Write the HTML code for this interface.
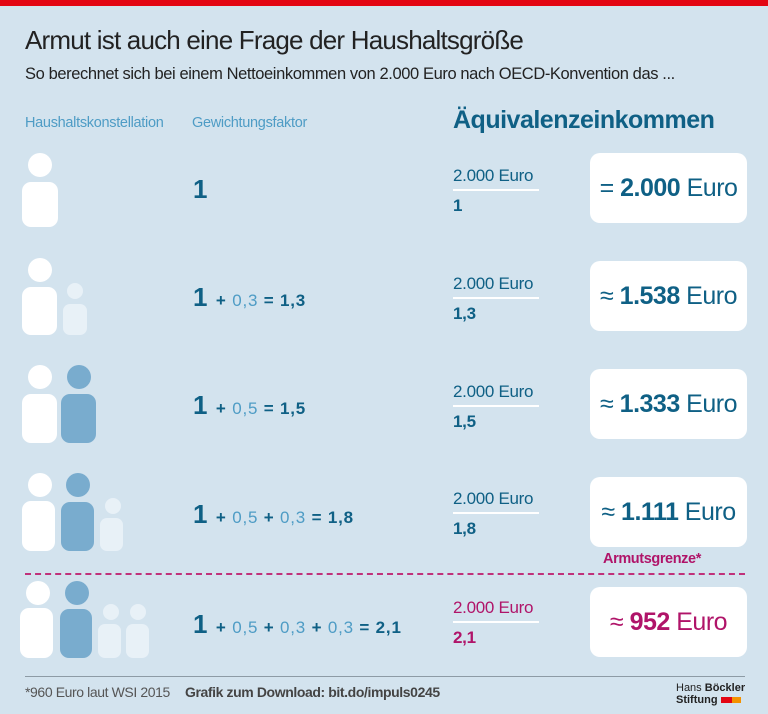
<!DOCTYPE html>
<html><head><meta charset="utf-8"><style>
body{margin:0;width:768px;height:714px;background:#d3e3ee;position:relative;overflow:hidden;font-family:"Liberation Sans",sans-serif}
.a{position:absolute;white-space:nowrap}
.dk{color:#0f6085}.md{color:#4e9cc5}.mg{color:#b01469}
.box{position:absolute;left:590px;width:157px;height:70px;background:#fff;border-radius:10px}
.val{position:absolute;left:0;width:100%;top:0;line-height:70px;text-align:center;font-size:25px;letter-spacing:-0.5px}
.fl{position:absolute;left:453px;width:86px;height:2px;background:#fff}
.num{font-size:17px;letter-spacing:-0.3px}
.f{font-size:17px;letter-spacing:0.8px}
.b{font-weight:bold}
.one{font-size:26px;font-weight:bold;margin-right:4px}
</style></head><body>
<div class="a" style="left:0;top:0;width:768px;height:6px;background:#e30613"></div>
<div class="a" style="left:25px;top:25px;font-size:26px;color:#222;letter-spacing:-0.8px">Armut ist auch eine Frage der Haushaltsgröße</div>
<div class="a" style="left:25px;top:65px;font-size:16.5px;color:#222;letter-spacing:-0.4px">So berechnet sich bei einem Nettoeinkommen von 2.000 Euro nach OECD-Konvention das ...</div>
<div class="a md" style="left:25px;top:115px;font-size:14.5px;letter-spacing:-0.3px">Haushaltskonstellation</div>
<div class="a md" style="left:192px;top:115px;font-size:14.5px;letter-spacing:-0.3px">Gewichtungsfaktor</div>
<div class="a dk" style="left:453px;top:106px;font-size:25px;font-weight:bold;letter-spacing:-0.5px">Äquivalenzeinkommen</div>

<svg class="a" style="left:0;top:0" width="170" height="714">
<g fill="#fff"><circle cx="40" cy="165" r="12"/><rect x="22" y="182" width="36" height="45" rx="9"/></g>
<g><circle cx="40" cy="270" r="12" fill="#fff"/><rect x="22" y="287" width="35" height="48" rx="9" fill="#fff"/>
<circle cx="75" cy="291" r="8" fill="#e8f1f7"/><rect x="63" y="304" width="24" height="31" rx="7" fill="#e8f1f7"/></g>
<g><circle cx="40" cy="377" r="12" fill="#fff"/><rect x="22" y="394" width="35" height="49" rx="9" fill="#fff"/>
<circle cx="79" cy="377" r="12" fill="#79acce"/><rect x="61" y="394" width="35" height="49" rx="9" fill="#79acce"/></g>
<g><circle cx="40" cy="485" r="12" fill="#fff"/><rect x="22" y="501" width="33" height="50" rx="9" fill="#fff"/>
<circle cx="78" cy="485" r="12" fill="#79acce"/><rect x="61" y="502" width="33" height="49" rx="9" fill="#79acce"/>
<circle cx="113" cy="506" r="8" fill="#e8f1f7"/><rect x="100" y="518" width="23" height="33" rx="7" fill="#e8f1f7"/></g>
<g><circle cx="38" cy="593" r="12" fill="#fff"/><rect x="20" y="608" width="33" height="50" rx="9" fill="#fff"/>
<circle cx="77" cy="593" r="12" fill="#79acce"/><rect x="60" y="609" width="32" height="49" rx="9" fill="#79acce"/>
<circle cx="111" cy="612" r="8" fill="#e8f1f7"/><rect x="98" y="624" width="23" height="34" rx="7" fill="#e8f1f7"/>
<circle cx="138" cy="612" r="8" fill="#e8f1f7"/><rect x="126" y="624" width="23" height="34" rx="7" fill="#e8f1f7"/></g>
</svg>

<div class="a dk" style="left:193px;top:174px"><span class="one">1</span></div>
<div class="a dk" style="left:193px;top:282px"><span class="one">1</span> <span class="f b">+ </span><span class="f md">0,3</span><span class="f b"> = 1,3</span></div>
<div class="a dk" style="left:193px;top:390px"><span class="one">1</span> <span class="f b">+ </span><span class="f md">0,5</span><span class="f b"> = 1,5</span></div>
<div class="a dk" style="left:193px;top:499px"><span class="one">1</span> <span class="f b">+ </span><span class="f md">0,5</span><span class="f b"> + </span><span class="f md">0,3</span><span class="f b"> = 1,8</span></div>
<div class="a dk" style="left:193px;top:609px"><span class="one">1</span> <span class="f b">+ </span><span class="f md">0,5</span><span class="f b"> + </span><span class="f md">0,3</span><span class="f b"> + </span><span class="f md">0,3</span><span class="f b"> = 2,1</span></div>

<div class="a dk num" style="left:453px;top:166px">2.000 Euro</div><div class="fl" style="top:189px"></div><div class="a dk num b" style="left:453px;top:196px">1</div>
<div class="a dk num" style="left:453px;top:274px">2.000 Euro</div><div class="fl" style="top:297px"></div><div class="a dk num b" style="left:453px;top:304px">1,3</div>
<div class="a dk num" style="left:453px;top:382px">2.000 Euro</div><div class="fl" style="top:405px"></div><div class="a dk num b" style="left:453px;top:412px">1,5</div>
<div class="a dk num" style="left:453px;top:489px">2.000 Euro</div><div class="fl" style="top:512px"></div><div class="a dk num b" style="left:453px;top:519px">1,8</div>
<div class="a mg num" style="left:453px;top:598px">2.000 Euro</div><div class="fl" style="top:621px"></div><div class="a mg num b" style="left:453px;top:628px">2,1</div>

<div class="box" style="top:153px"><div class="val dk">= <b>2.000</b> Euro</div></div>
<div class="box" style="top:261px"><div class="val dk">≈ <b>1.538</b> Euro</div></div>
<div class="box" style="top:369px"><div class="val dk">≈ <b>1.333</b> Euro</div></div>
<div class="box" style="top:477px"><div class="val dk">≈ <b>1.111</b> Euro</div></div>
<div class="box" style="top:587px"><div class="val mg">≈ <b>952</b> Euro</div></div>

<div class="a mg" style="left:603px;top:551px;font-size:14.5px;font-weight:bold;letter-spacing:-0.4px">Armutsgrenze*</div>
<div class="a" style="left:25px;top:573px;width:720px;border-top:2px dashed #c0317a"></div>

<div class="a" style="left:25px;top:676px;width:720px;height:1px;background:#8d9ba5"></div>
<div class="a" style="left:25px;top:684px;font-size:14px;color:#555;letter-spacing:-0.4px">*960 Euro laut WSI 2015</div>
<div class="a" style="left:185px;top:684px;font-size:14px;font-weight:bold;color:#444;letter-spacing:-0.4px">Grafik zum Download: bit.do/impuls0245</div>
<div class="a" style="left:676px;top:682px;font-size:11px;line-height:12px;color:#222">Hans <b>Böckler</b><br><b>Stiftung</b> <span style="display:inline-block;width:11px;height:6px;background:#e30613"></span><span style="display:inline-block;width:9px;height:6px;background:#f39200"></span></div>
</body></html>
